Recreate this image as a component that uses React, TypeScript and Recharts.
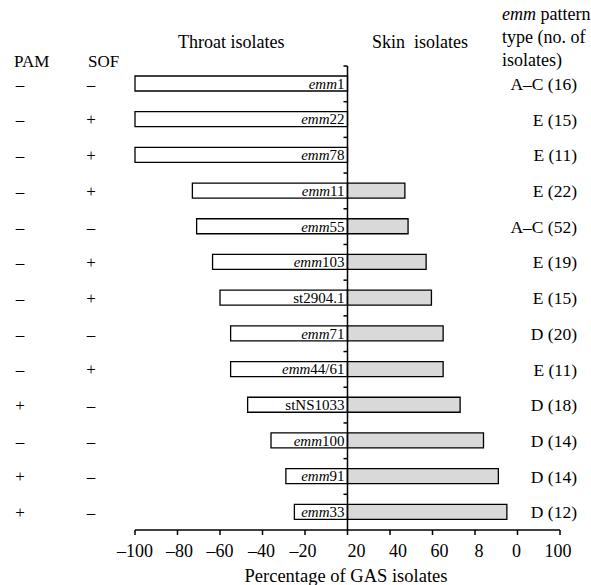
import { BarChart, Bar, XAxis, YAxis, ReferenceLine, LabelList } from 'recharts'

const types = ['emm1', 'emm22', 'emm78', 'emm11', 'emm55', 'emm103', 'st2904.1', 'emm71', 'emm44/61', 'stNS1033', 'emm100', 'emm91', 'emm33']
const throat = [-100, -100, -100, -73, -71, -63.5, -60, -55, -55, -47, -36, -29, -25]
const skin = [0, 0, 0, 27, 28.5, 37, 39.5, 45, 45, 53, 64, 71, 75]
const pam = ['–', '–', '–', '–', '–', '–', '–', '–', '–', '+', '–', '+', '+']
const sof = ['–', '+', '+', '+', '–', '+', '+', '–', '+', '–', '–', '–', '–']
const pattern = ['A–C (16)', 'E (15)', 'E (11)', 'E (22)', 'A–C (52)', 'E (19)', 'E (15)', 'D (20)', 'E (11)', 'D (18)', 'D (14)', 'D (14)', 'D (12)']
const xTicks = [-100, -80, -60, -40, -20, 0, 20, 40, 60, 80, 100]
const xTickLabels = ['–100', '–80', '–60', '–40', '–20', '20', '40', '60', '8', '0', '100']

const data = types.map((name, i) => ({ name, throat: throat[i], skin: skin[i] }))

const W = 591
const H = 585
const margin = { top: 66, right: 31, bottom: 25, left: 0 }
const Y_AXIS_W = 135
const X_AXIS_H = 30
const PLOT_W = W - margin.left - margin.right - Y_AXIS_W
const ZERO_X = margin.left + Y_AXIS_W + PLOT_W / 2
const BAND = (H - margin.top - margin.bottom - X_AXIS_H) / types.length
const FONT = '"Liberation Serif", "Times New Roman", serif'
const svgText = { fontFamily: FONT, fontSize: 17, fill: '#000' }
// the printed tick labels sit a little off their ticks on the right half
const tickNudge = [0, 2, 0, -1, -2, 9, 8, 7, 4, -1, -2]

function RowTick(props: any) {
  const { y, payload } = props
  const i = types.indexOf(payload.value)
  return (
    <g>
      <line x1={ZERO_X - 4} x2={ZERO_X} y1={y - BAND / 2} y2={y - BAND / 2} stroke="#000" strokeWidth={1.5} />
      <text x={20} y={y} textAnchor="middle" dy="0.35em" style={svgText}>{pam[i]}</text>
      <text x={91} y={y} textAnchor="middle" dy="0.35em" style={svgText}>{sof[i]}</text>
      <text x={577} y={y} textAnchor="end" dy="0.35em" style={{ ...svgText, fontSize: 17.5 }}>{pattern[i]}</text>
    </g>
  )
}

function TypeLabel(props: any) {
  const { x, y, width, height, value } = props
  const right = Math.max(x, x + width) - 3
  const isEmm = String(value).startsWith('emm')
  return (
    <text x={right} y={y + height / 2} dy="0.35em" textAnchor="end" style={{ ...svgText, fontSize: 15 }}>
      {isEmm ? <tspan fontStyle="italic">emm</tspan> : null}
      <tspan>{isEmm ? String(value).slice(3) : value}</tspan>
    </text>
  )
}

function XTick(props: any) {
  const { x, y, payload } = props
  const i = xTicks.indexOf(payload.value)
  return (
    <text x={x + tickNudge[i]} y={y} dy="0.71em" textAnchor="middle" style={{ ...svgText, fontSize: 18 }}>
      {xTickLabels[i]}
    </text>
  )
}

const txt = (style: any) => ({
  position: 'absolute' as const, fontFamily: FONT, fontSize: 18, color: '#000',
  lineHeight: '23px', whiteSpace: 'pre' as const, ...style,
})

export default function App() {
  return (
    <div style={{ position: 'absolute', left: 0, top: 0, width: W, height: H, background: '#fff', overflow: 'hidden' }}>
      <BarChart width={W} height={H} data={data} layout="vertical" stackOffset="sign" margin={margin}>
        <XAxis
          type="number"
          domain={[-100, 100]}
          ticks={xTicks}
          height={X_AXIS_H}
          axisLine={{ stroke: '#000', strokeWidth: 1.5 }}
          tickLine={{ stroke: '#000', strokeWidth: 1.5 }}
          tickSize={5}
          tickMargin={9}
          tick={<XTick />}
          interval={0}
        />
        <YAxis
          type="category"
          dataKey="name"
          width={Y_AXIS_W}
          axisLine={false}
          tickLine={false}
          tick={<RowTick />}
          interval={0}
        />
        <Bar dataKey="throat" stackId="a" fill="#fff" stroke="#000" strokeWidth={1.3} barSize={15} isAnimationActive={false}>
          <LabelList dataKey="name" content={<TypeLabel />} />
        </Bar>
        <Bar dataKey="skin" stackId="a" fill="#d9d9d9" stroke="#000" strokeWidth={1.3} barSize={15} isAnimationActive={false} />
        <ReferenceLine x={0} stroke="#000" strokeWidth={1.5} />
      </BarChart>
      <div style={txt({ left: 178, top: 31 })}>Throat isolates</div>
      <div style={txt({ left: 372, top: 31 })}>{'Skin  isolates'}</div>
      <div style={txt({ left: 502, top: 3 })}>
        <i>emm</i> pattern<br />type (no. of<br />isolates)
      </div>
      <div style={txt({ left: 14, top: 50, fontSize: 17 })}>PAM</div>
      <div style={txt({ left: 88, top: 50, fontSize: 17 })}>SOF</div>
      <div style={txt({ left: 0, width: 692, top: 565, fontSize: 18.5 })}>
        <div style={{ textAlign: 'center' }}>Percentage of GAS isolates</div>
      </div>
    </div>
  )
}
